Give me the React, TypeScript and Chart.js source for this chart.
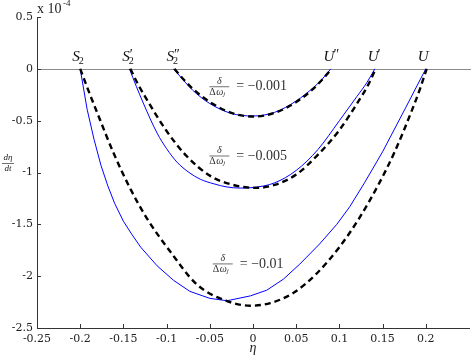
import React, { useEffect, useRef } from 'react';
import { Chart, registerables } from 'chart.js';

Chart.register(...registerables);

// Axis ticks
const xTicks = [-0.25, -0.2, -0.15, -0.1, -0.05, 0, 0.05, 0.1, 0.15, 0.2];
const yTicks = [0.5, 0, -0.5, -1, -1.5, -2, -2.5];

// delta/Δω_j = -0.001
const etaDashedA = [-0.091, -0.08, -0.07, -0.05, -0.025, 0, 0.025, 0.05, 0.07, 0.08, 0.091];
const valDashedA = [0, -0.105, -0.19, -0.32, -0.425, -0.46, -0.425, -0.32, -0.19, -0.105, 0];
const etaBlueA = [-0.092, -0.08, -0.07, -0.05, -0.025, 0, 0.025, 0.05, 0.07, 0.08, 0.09];
const valBlueA = [0, -0.115, -0.205, -0.335, -0.43, -0.455, -0.42, -0.31, -0.18, -0.1, 0];

// delta/Δω_j = -0.005
const etaDashedB = [-0.142, -0.133, -0.123, -0.1, -0.077, -0.05, -0.023, 0.004, 0.025, 0.05, 0.075, 0.1, 0.123, 0.133, 0.142];
const valDashedB = [0, -0.15, -0.295, -0.6, -0.84, -1.03, -1.12, -1.148, -1.12, -1.02, -0.83, -0.59, -0.3, -0.16, 0];
const etaBlueB = [-0.143, -0.135, -0.127, -0.111, -0.1, -0.088, -0.074, -0.061, -0.045, -0.03, -0.015, 0, 0.025, 0.05, 0.075, 0.1, 0.12, 0.132, 0.141];
const valBlueB = [0, -0.17, -0.33, -0.62, -0.77, -0.9, -1.0, -1.065, -1.11, -1.14, -1.15, -1.145, -1.1, -0.98, -0.78, -0.5, -0.27, -0.13, 0];

// delta/Δω_j = -0.01
const etaDashedC = [-0.2, -0.19, -0.18, -0.161, -0.143, -0.123, -0.096, -0.065, -0.03, -0.003, 0.02, 0.047, 0.073, 0.1, 0.123, 0.145, 0.164, 0.183, 0.193, 0.201];
const valDashedC = [0, -0.22, -0.43, -0.82, -1.14, -1.44, -1.76, -2.08, -2.24, -2.285, -2.26, -2.16, -1.98, -1.72, -1.44, -1.12, -0.8, -0.42, -0.2, 0];
const etaBlueC = [-0.2, -0.192, -0.184, -0.176, -0.168, -0.16, -0.15, -0.14, -0.13, -0.111, -0.092, -0.073, -0.05, -0.03, -0.003, 0.016, 0.035, 0.054, 0.077, 0.097, 0.112, 0.129, 0.15, 0.177, 0.2];
const valBlueC = [0, -0.39, -0.68, -0.93, -1.13, -1.3, -1.47, -1.6, -1.72, -1.9, -2.04, -2.147, -2.214, -2.237, -2.19, -2.135, -2.03, -1.885, -1.69, -1.5, -1.33, -1.1, -0.8, -0.37, 0];

// Curve labels
const ratioLabels = ['= \u22120.001', '= \u22120.005', '= \u22120.01'];
const ratioLabelEta = [-0.039, -0.039, -0.035];
const ratioLabelVal = [-0.168, -0.836, -1.877];

// Root-point labels
const rootNames = ['S', 'S', 'S', 'U', 'U', 'U'];
const rootSub = ['2', '2', '2', '', '', ''];
const rootPrime = ['', '\u2032', '\u2033', '\u2033', '\u2032', ''];
const rootEta = [-0.2, -0.142, -0.091, 0.091, 0.142, 0.2];

const pts = (xs: number[], ys: number[]) => xs.map((x, i) => ({ x, y: ys[i] }));

const SERIF = '"Liberation Serif", "DejaVu Serif", serif';

const overlayPlugin = {
  id: 'overlay',
  beforeDatasetsDraw(chart: any) {
    const { ctx, chartArea, scales } = chart;
    const y0 = scales.y.getPixelForValue(0);
    ctx.save();
    ctx.strokeStyle = '#8a8a8a';
    ctx.lineWidth = 1;
    ctx.beginPath();
    ctx.moveTo(chartArea.left, Math.round(y0) + 0.5);
    ctx.lineTo(chartArea.right + 2, Math.round(y0) + 0.5);
    ctx.stroke();
    ctx.restore();
  },
  afterDraw(chart: any) {
    const { ctx, chartArea, scales } = chart;
    const xs = scales.x;
    const ys = scales.y;
    ctx.save();
    // inward ticks
    ctx.strokeStyle = '#333';
    ctx.lineWidth = 1;
    ctx.beginPath();
    xTicks.forEach((v) => {
      const px = Math.round(xs.getPixelForValue(v)) + 0.5;
      ctx.moveTo(px, chartArea.bottom);
      ctx.lineTo(px, chartArea.bottom - 4);
    });
    yTicks.forEach((v) => {
      const py = Math.round(ys.getPixelForValue(v)) + 0.5;
      ctx.moveTo(chartArea.left, py);
      ctx.lineTo(chartArea.left + 4, py);
    });
    ctx.stroke();

    ctx.textBaseline = 'middle';
    // x 10^-4
    ctx.fillStyle = '#222';
    ctx.textAlign = 'left';
    ctx.font = `14px ${SERIF}`;
    ctx.fillText('x 10', chartArea.left, 9);
    ctx.font = `9px ${SERIF}`;
    ctx.fillText('-4', chartArea.left + 26, 4);

    // y label: dη/dt
    ctx.textAlign = 'center';
    ctx.font = `italic 9px ${SERIF}`;
    ctx.fillText('d\u03b7', 8, 158);
    ctx.fillText('dt', 8, 169);
    ctx.beginPath();
    ctx.moveTo(2, 163.5);
    ctx.lineTo(14, 163.5);
    ctx.lineWidth = 0.7;
    ctx.stroke();

    // x label: η
    ctx.font = `italic 14px ${SERIF}`;
    ctx.fillText('\u03b7', xs.getPixelForValue(0), 348);

    // root labels
    rootNames.forEach((name, i) => {
      const left = xs.getPixelForValue(rootEta[i]) - 8;
      const cy = 57;
      ctx.textAlign = 'left';
      ctx.fillStyle = '#111';
      ctx.font = `italic 15px ${SERIF}`;
      ctx.fillText(name, left, cy);
      const w = ctx.measureText(name).width;
      if (rootSub[i]) {
        ctx.font = `10px ${SERIF}`;
        ctx.fillText(rootSub[i], left + w - 1, cy + 4);
      }
      if (rootPrime[i]) {
        ctx.font = `14px ${SERIF}`;
        ctx.fillText(rootPrime[i], left + w - (rootSub[i] ? 0 : 1), cy - 2);
      }
    });

    // ratio labels
    ratioLabels.forEach((txt, i) => {
      const cx = xs.getPixelForValue(ratioLabelEta[i]);
      const cy = ys.getPixelForValue(ratioLabelVal[i]);
      ctx.fillStyle = '#333';
      ctx.strokeStyle = '#333';
      ctx.textAlign = 'center';
      ctx.font = `italic 10px ${SERIF}`;
      ctx.fillText('\u03b4', cx, cy - 5);
      ctx.beginPath();
      ctx.lineWidth = 0.7;
      ctx.moveTo(cx - 10, cy + 0.5);
      ctx.lineTo(cx + 10, cy + 0.5);
      ctx.stroke();
      ctx.font = `10px ${SERIF}`;
      ctx.textAlign = 'left';
      ctx.fillText('\u0394', cx - 10, cy + 6);
      ctx.font = `italic 10px ${SERIF}`;
      ctx.fillText('\u03c9', cx - 3, cy + 6);
      ctx.font = `italic 7px ${SERIF}`;
      ctx.fillText('j', cx + 4, cy + 8);
      ctx.font = `14px ${SERIF}`;
      ctx.fillText(txt, cx + 17, cy + 0.5);
    });
    ctx.restore();
  },
};

export default function App() {
  const ref = useRef<HTMLCanvasElement>(null);
  useEffect(() => {
    if (!ref.current) return;
    const dashed = (data: any) => ({
      data,
      showLine: true,
      borderColor: '#000',
      borderWidth: 2.4,
      borderDash: [6, 4],
      pointRadius: 0,
      cubicInterpolationMode: 'monotone' as const,
      fill: false,
    });
    const blue = (data: any, smooth: boolean) => ({
      data,
      showLine: true,
      borderColor: '#0000ff',
      borderWidth: 1,
      pointRadius: 0,
      cubicInterpolationMode: smooth ? ('monotone' as const) : ('default' as const),
      tension: 0,
      fill: false,
    });
    const chart = new Chart(ref.current, {
      type: 'scatter',
      data: {
        datasets: [
          dashed(pts(etaDashedA, valDashedA)),
          dashed(pts(etaDashedB, valDashedB)),
          dashed(pts(etaDashedC, valDashedC)),
          blue(pts(etaBlueA, valBlueA), true),
          blue(pts(etaBlueB, valBlueB), true),
          blue(pts(etaBlueC, valBlueC), false),
        ],
      },
      options: {
        animation: false,
        responsive: false,
        devicePixelRatio: 1,
        layout: { padding: { top: 17, right: 2, left: 0, bottom: 0 } },
        plugins: { legend: { display: false }, tooltip: { enabled: false } },
        scales: {
          x: {
            type: 'linear',
            min: -0.25,
            max: 0.25,
            afterBuildTicks: (s: any) => {
              s.ticks = xTicks.map((value) => ({ value }));
            },
            afterFit: (s: any) => {
              s.height = 30;
            },
            grid: { display: false, drawTicks: false },
            border: { display: true, color: '#333', width: 1 },
            ticks: {
              padding: 5,
              color: '#222',
              font: { family: '"DejaVu Serif", serif', size: 11 },
              maxRotation: 0,
              autoSkip: false,
              callback: (v: any) => String(v),
            },
          },
          y: {
            type: 'linear',
            min: -2.5,
            max: 0.5,
            afterBuildTicks: (s: any) => {
              s.ticks = yTicks.map((value) => ({ value }));
            },
            afterFit: (s: any) => {
              s.width = 37;
            },
            grid: { display: false, drawTicks: false },
            border: { display: true, color: '#333', width: 1 },
            ticks: {
              padding: 4,
              color: '#222',
              font: { family: '"DejaVu Serif", serif', size: 11 },
              autoSkip: false,
              callback: (v: any) => String(v),
            },
          },
        },
      },
      plugins: [overlayPlugin],
    });
    return () => chart.destroy();
  }, []);
  return (
    <div style={{ position: 'absolute', left: 0, top: 0, width: 471, height: 358 }}>
      <canvas ref={ref} width={471} height={358} style={{ width: 471, height: 358, display: 'block' }} />
    </div>
  );
}
